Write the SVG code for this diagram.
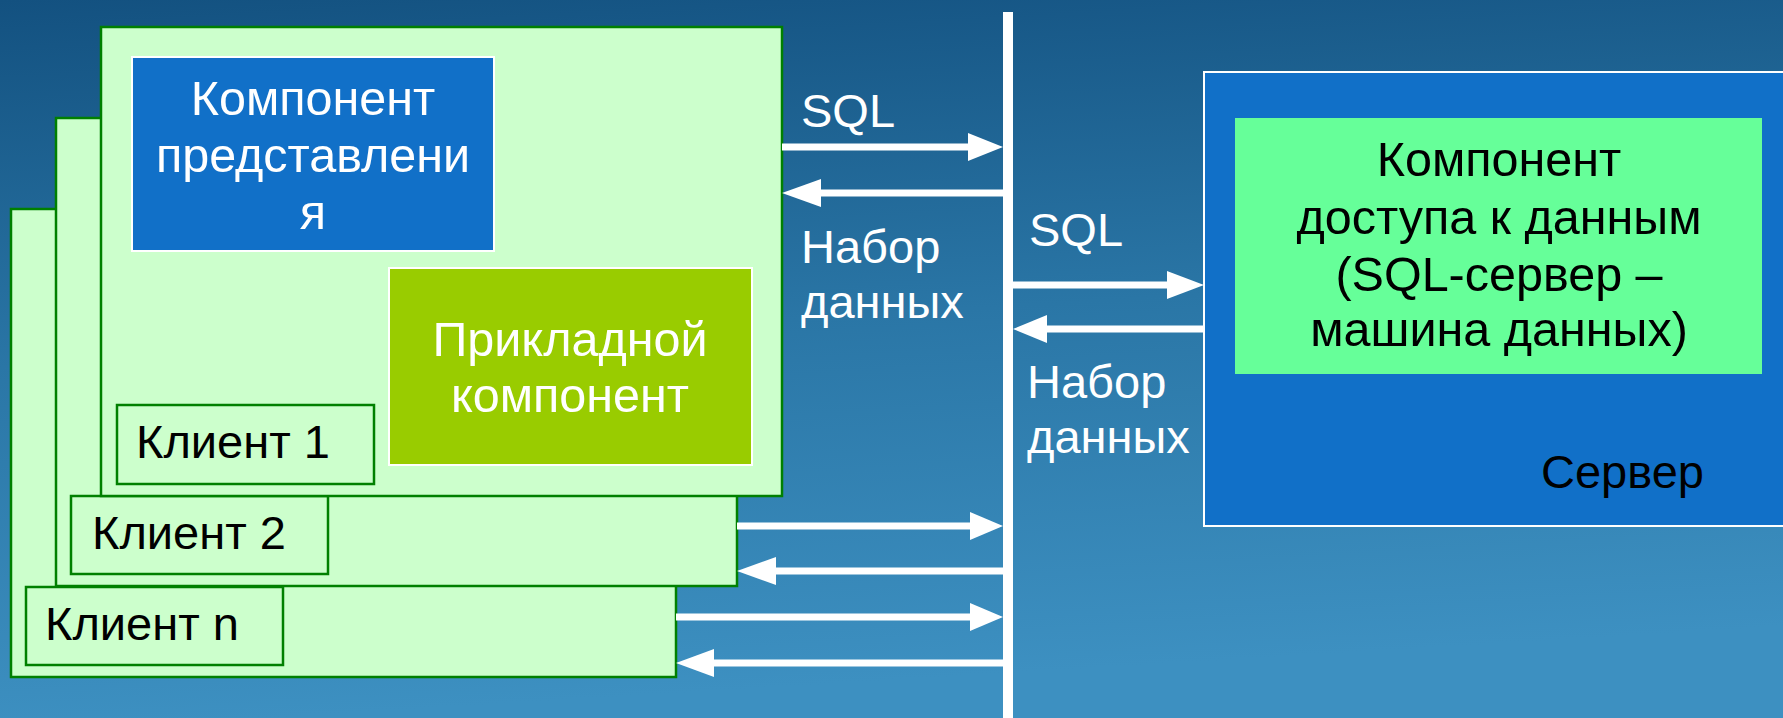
<svg xmlns="http://www.w3.org/2000/svg" width="1783" height="718" viewBox="0 0 1783 718">
<defs>
<linearGradient id="bg" x1="0" y1="0" x2="0.15" y2="1">
<stop offset="0" stop-color="#135180"/>
<stop offset="0.5" stop-color="#2a76a6"/>
<stop offset="1" stop-color="#3d90c1"/>
</linearGradient>
<style>
.client{fill:#CCFFCC;stroke:#008000;stroke-width:2.5}
.lbl{fill:#CCFFCC;stroke:#008000;stroke-width:2.5}
.blue{fill:#1170C8;stroke:#FFFFFF;stroke-width:2}
.lime{fill:#99CC00;stroke:#FFFFFF;stroke-width:2}
.mint{fill:#66FF99}
text{font-family:"Liberation Sans",Arial,sans-serif;font-size:47px}
.big{font-size:48.5px}
.w{fill:#FFFFFF}
.k{fill:#000000}
.c{text-anchor:middle}
.ln{stroke:#FFFFFF;stroke-width:7;fill:none}
.hd{fill:#FFFFFF}
</style>
</defs>
<rect x="0" y="0" width="1783" height="718" fill="url(#bg)"/>

<g id="client-n">
<rect class="client" x="11" y="209" width="665" height="468"/>
<rect class="lbl" x="26" y="587" width="257" height="78"/>
<text class="k" x="45" y="640">Клиент n</text>
</g>

<g id="client-2">
<rect class="client" x="56" y="118" width="681" height="468"/>
<rect class="lbl" x="71" y="496" width="257" height="78"/>
<text class="k" x="92" y="549">Клиент 2</text>
</g>

<g id="client-1">
<rect class="client" x="101" y="27" width="681" height="469"/>
<rect class="lbl" x="117" y="405" width="257" height="79"/>
<text class="k" x="136" y="458">Клиент 1</text>
</g>

<g id="presentation">
<rect class="blue" x="132" y="57" width="362" height="194"/>
<text class="w c big" x="313" y="115">Компонент</text>
<text class="w c big" x="313" y="172">представлени</text>
<text class="w c big" x="313" y="229">я</text>
</g>

<g id="applied">
<rect class="lime" x="389" y="268" width="363" height="197"/>
<text class="w c big" x="570" y="356">Прикладной</text>
<text class="w c big" x="570" y="412">компонент</text>
</g>

<g id="server">
<rect class="blue" x="1204" y="72" width="590" height="454"/>
<rect class="mint" x="1235" y="118" width="527" height="256"/>
<text class="k c big" x="1499" y="176">Компонент</text>
<text class="k c big" x="1499" y="234">доступа к данным</text>
<text class="k c big" x="1499" y="291">(SQL-сервер –</text>
<text class="k c big" x="1499" y="346">машина данных)</text>
<text class="k" x="1541" y="488">Сервер</text>
</g>

<g id="bus">
<rect x="1003" y="12" width="10" height="706" fill="#FFFFFF"/>
</g>

<g id="connectors">
<line class="ln" x1="782" y1="147" x2="972" y2="147"/>
<polygon class="hd" points="968,133 1003,147 968,161"/>
<line class="ln" x1="1003" y1="193" x2="815" y2="193"/>
<polygon class="hd" points="821,179 782,193 821,207"/>

<line class="ln" x1="1013" y1="285" x2="1172" y2="285"/>
<polygon class="hd" points="1167,271 1204,285 1167,299"/>
<line class="ln" x1="1204" y1="329" x2="1040" y2="329"/>
<polygon class="hd" points="1047,315 1013,329 1047,343"/>

<line class="ln" x1="737" y1="526" x2="975" y2="526"/>
<polygon class="hd" points="970,512 1003,526 970,540"/>
<line class="ln" x1="1003" y1="571" x2="770" y2="571"/>
<polygon class="hd" points="776,557 737,571 776,585"/>

<line class="ln" x1="676" y1="617" x2="975" y2="617"/>
<polygon class="hd" points="970,603 1003,617 970,631"/>
<line class="ln" x1="1003" y1="663" x2="708" y2="663"/>
<polygon class="hd" points="714,649 676,663 714,677"/>

<text class="w" x="801" y="127">SQL</text>
<text class="w" x="801" y="263">Набор</text>
<text class="w" x="801" y="318">данных</text>
<text class="w" x="1029" y="246">SQL</text>
<text class="w" x="1027" y="398">Набор</text>
<text class="w" x="1027" y="453">данных</text>
</g>
</svg>
